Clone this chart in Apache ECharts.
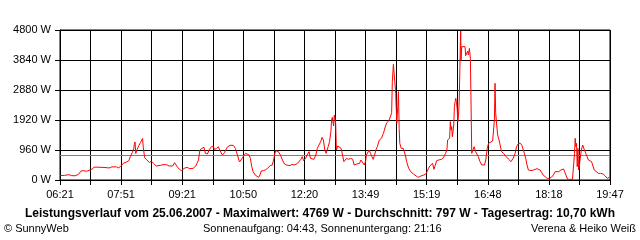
<!DOCTYPE html>
<html>
<head>
<meta charset="utf-8">
<script src="https://cdn.jsdelivr.net/npm/echarts@6/dist/echarts.min.js"></script>
<style>
html,body{margin:0;padding:0;background:#fff;}
#c{width:640px;height:240px;}
</style>
</head>
<body>
<div id="c"></div>
<script>
// minutes after 06:21
const SPAN = 806;
const xTickLabels = ["06:21","07:51","09:21","10:50","12:20","13:49","15:19","16:48","18:18","19:47"];
const yMax = 4800;
const yStep = 960;
const average = 797;
const times = [
0,7,13,17,22,27,31,34,39,44,47,50,56,66,72,76,83,86,89,93,98,101,103,106,108,109,110,111,113,116,118,121,122,124,127,131,134,
137,141,147,151,156,160,165,168,171,175,178,182,186,190,195,199,203,205,208,211,213,216,219,222,225,226,229,232,234,238,241,245,249,254,257,260,263,265,267,269,272,274,
277,279,281,283,286,288,291,293,295,298,301,304,308,311,313,315,316,318,320,323,326,329,332,337,340,344,348,350,353,355,357,360,362,365,367,369,372,375,377,379,382,384,386,388,390,393,395,397,398,399,401,402,404,405,407,409,412,
414,416,418,420,423,426,429,431,435,439,441,443,446,448,449,451,453,455,457,459,461,463,465,468,471,474,477,479,482,485,486,487,488.6,491.5,492,493.5,495,496,497,498,500,503,506,508,511,514,518,522,525,529,533,536,538,540,542,544,546,548,550,552,
555,559,562,565,567,568,571,572,573,574,575,576,577,578,579,580,581,582,583,584,585,586,586.7,587.2,587.7,588.7,593.6,594.5,596,597.5,598.5,600,601.4,602.4,603.4,605,607,609,611,613,615.5,618,622,624,626,628,630,634,635.6,636.6,637.5,638.5,640,641.4,643.4,645,647,650,653,657,661,664,667,669,672,675,677,679,680.5,682.5,684.4,686.4,690,
694,696,699,701,703.5,706,708,711,714,717,720,723,725.5,728,731,734,738,740,742,744,751,753,754,755,756,757,758,759,760,761,762,764,766,768,768.5,770.5,772.5,774.4,777,779,781,783,785,789,792,796,799,802,804,805,806
];
const watts = [
140,150,170,140,135,180,290,300,280,320,350,410,410,400,385,420,420,390,440,540,580,620,750,880,1000,1150,1220,850,980,1120,1200,1330,1050,720,650,560,600,
533,448,469,490,490,448,448,555,448,341,298,373,405,363,373,448,640,960,1013,1045,853,832,981,1067,1067,981,1003,1067,960,800,875,1045,1109,1109,1013,800,576,640,693,768,853,875,
800,693,427,267,160,107,85,160,288,299,320,373,459,480,640,853,939,992,907,800,640,512,480,459,501,480,533,587,661,747,619,693,800,907,693,640,661,800,1013,1067,1227,1365,1280,960,853,1067,1227,1547,1920,2005,1728,2080,1813,960,1088,1045,1013,
800,587,640,693,661,693,661,480,512,533,640,587,480,619,800,853,960,853,747,661,800,960,1067,1280,1333,1493,1728,1835,1899,2080,2155,3147,3701,3701,2773,1813,2347,2827,1653,1173,1013,1013,800,587,373,267,192,128,85,128,160,192,267,373,448,427,533,341,480,619,
640,661,715,853,960,1280,1333,1867,1600,1707,1387,1568,1760,2347,2507,2613,2485,2293,1867,2080,2507,3573,4427,4769,3840,4267,4267,3979,3925,4128,4000,4213,3893,2400,853,960,1067,907,928,747,587,480,480,640,1003,1173,1227,1248,1280,1920,3093,2133,1760,1440,1280,1120,907,853,768,672,587,693,853,1067,1173,1173,1099,1067,853,693,480,320,299,
320,341,363,341,320,235,160,107,53,53,85,160,267,299,267,320,352,320,128,21,21,53,853,1333,1067,1173,427,1013,320,405,640,960,1120,1120,960,853,747,640,608,587,448,320,267,213,213,192,128,53,21,85,100
];
const titleText = "Leistungsverlauf vom 25.06.2007 - Maximalwert: 4769 W - Durchschnitt: 797 W - Tagesertrag: 10,70 kWh";
const footLeft = "© SunnyWeb";
const footMid = "Sonnenaufgang: 04:43, Sonnenuntergang: 21:16";
const footRight = "Verena & Heiko Weiß";

const FONT = '"Liberation Sans", Arial, sans-serif';
const step = SPAN / 18;
const data = times.map((t, i) => [t, watts[i]]);

const chart = echarts.init(document.getElementById('c'), null, {renderer: 'canvas'});
chart.setOption({
  animation: false,
  backgroundColor: '#fff',
  grid: {left: 60, right: 30, top: 30, bottom: 60, show: true, borderColor: '#000', borderWidth: 1, backgroundColor: 'transparent'},
  xAxis: {
    type: 'value', min: 0, max: SPAN, interval: step,
    axisLine: {show: true, lineStyle: {color: '#000', width: 1}},
    axisTick: {show: true, length: 5, lineStyle: {color: '#000', width: 1}},
    splitLine: {show: true, lineStyle: {color: '#000', width: 1}},
    axisLabel: {
      color: '#000', fontSize: 11, fontFamily: FONT, margin: 9,
      showMinLabel: true, showMaxLabel: true,
      formatter: function (v) {
        const idx = Math.round(v / step);
        if (Math.abs(v - idx * step) > 0.5) return '';
        if (idx % 2 !== 0) return '';
        return xTickLabels[idx / 2] || '';
      }
    }
  },
  yAxis: {
    type: 'value', min: 0, max: yMax, interval: yStep,
    axisLine: {show: true, lineStyle: {color: '#000', width: 1}},
    axisTick: {show: true, length: 5, lineStyle: {color: '#000', width: 1}},
    splitLine: {show: true, lineStyle: {color: '#000', width: 1}},
    axisLabel: {color: '#000', fontSize: 11, fontFamily: FONT, margin: 9, formatter: function (v) { return String(Math.round(v)) + ' W'; }}
  },
  series: [{
    type: 'line', data: data, showSymbol: false, symbol: 'none',
    lineStyle: {color: '#ff0000', width: 1}, itemStyle: {color: '#ff0000'},
    z: 3,
    markLine: {
      silent: true, symbol: 'none', label: {show: false},
      lineStyle: {color: '#808080', type: 'solid', width: 1},
      data: [{yAxis: average}], z: 2
    }
  }],
  graphic: [
    {type: 'text', left: 'center', top: 208, style: {text: titleText, font: 'bold 12px ' + FONT, fill: '#000'}},
    {type: 'text', left: 4, top: 223, style: {text: footLeft, font: '11px ' + FONT, fill: '#000'}},
    {type: 'text', left: 203, top: 223, style: {text: footMid, font: '11px ' + FONT, fill: '#000'}},
    {type: 'text', right: 4, top: 223, style: {text: footRight, font: '11px ' + FONT, fill: '#000'}}
  ]
});
</script>
</body>
</html>
